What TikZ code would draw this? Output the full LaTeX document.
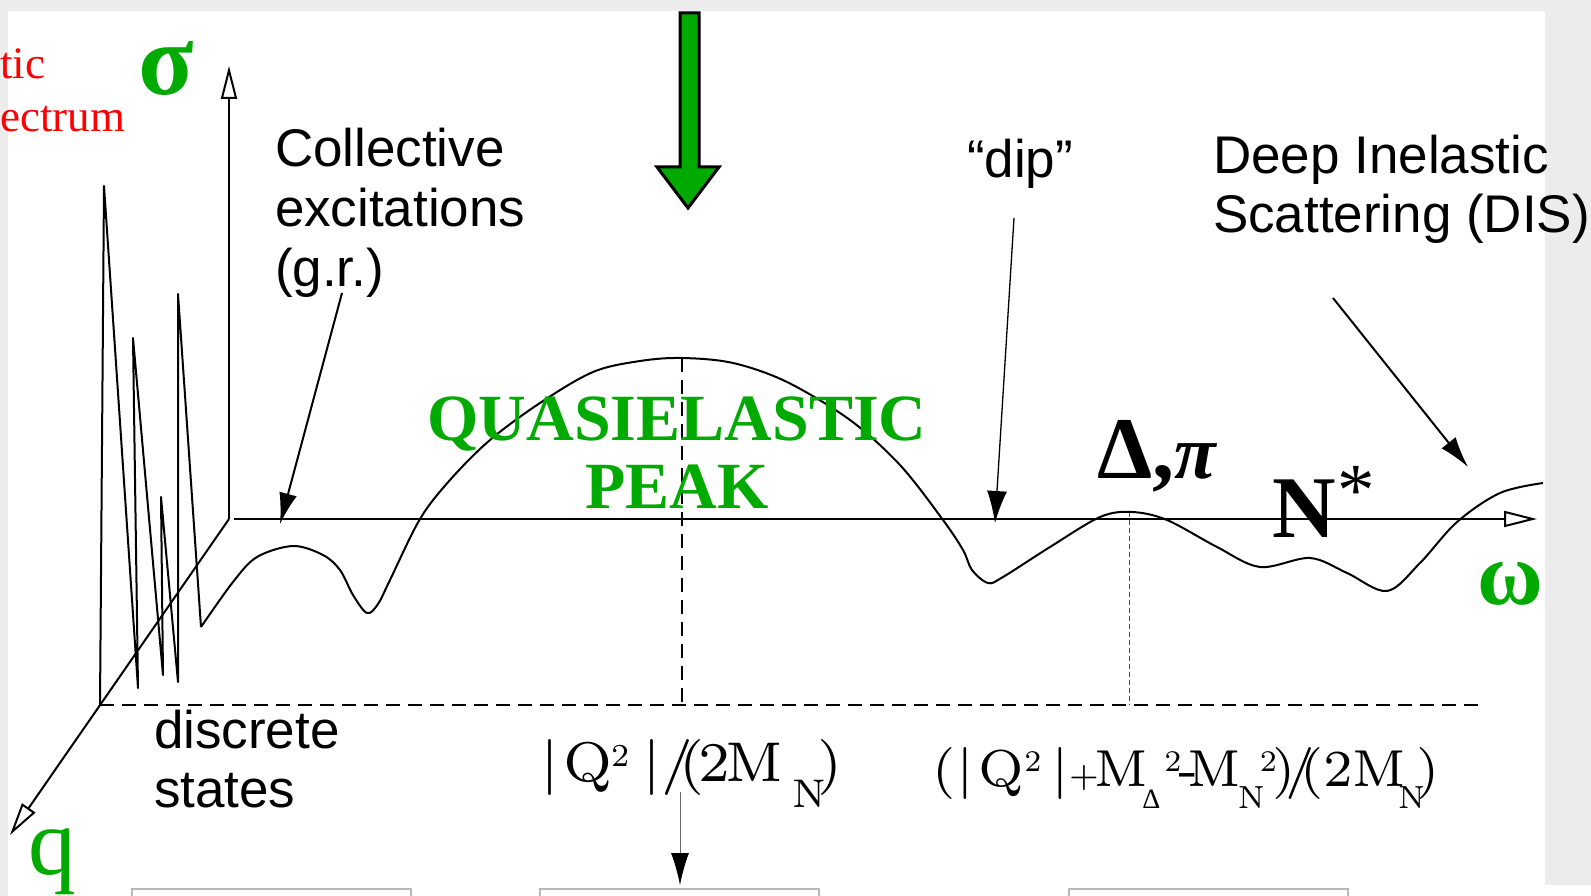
\documentclass[tikz,border=0pt]{standalone}
\usepackage{fontspec}
\newfontfamily\sansf{Liberation Sans}
\newfontfamily\serf{Liberation Serif}
\newfontfamily\lmsev{lmroman7-regular.otf}
\usetikzlibrary{arrows.meta}
\definecolor{grn}{RGB}{0,170,0}
\definecolor{bgray}{RGB}{236,236,236}
\newcommand{\setfs}[1]{\fontsize{#1}{#1}\selectfont}
\newcommand{\sbN}[1]{\raisebox{-26pt}{\setfs{40}#1}}
\newcommand{\sbNN}[1]{\raisebox{-22pt}{\setfs{32}#1}}
\newcommand{\sbD}{\raisebox{-22pt}{\serf\setfs{28}Δ}}
\newcommand{\spT}{\raisebox{15pt}{\setfs{32}2}}
\newcommand{\spTT}{\raisebox{15pt}{\setfs{30}2}}
\begin{document}
\begin{tikzpicture}[x=1pt,y=-1pt,
  lbl/.style={inner sep=0,outer sep=0,anchor=base west,font=\sansf\setfs{53}},
  glbl/.style={inner sep=0,outer sep=0,text=grn},
  ax/.style={line width=2pt,-{Triangle[open,length=33pt,width=16pt]}},
  crv/.style={line width=2pt,line join=round},
  dsh/.style={line width=2pt,dash pattern=on 14pt off 8pt},
  ptr/.style={line width=2pt,-{Latex[length=31pt,width=18pt]}},
  frm/.style={inner sep=0,outer sep=0,anchor=base west},
]
\useasboundingbox (0,0) rectangle (1591,896);
% background
\fill[bgray] (0,0) rectangle (1591,896);
\fill[white] (8,11) rectangle (1545,896);
\fill[white] (1545,885) rectangle (1591,896);

% bottom boxes (cut off)
\draw[gray!55,line width=1.5pt] (132,889) rectangle (411,910);
\draw[gray!55,line width=1.5pt] (540,889) rectangle (819,910);
\draw[gray!55,line width=1.5pt] (1069,889) rectangle (1348,910);

% red clipped text
\node[inner sep=0,anchor=base west,text=red,font=\serf\setfs{45}] (el1) at (0,79) {tic};
\node[inner sep=0,anchor=base west,text=red,font=\serf\setfs{45}] (el2) at (0,132) {ectrum};

% axes
\coordinate (O) at (229,519);
\coordinate (Stop) at (229,66);
\coordinate (Wstart) at (234,519);
\coordinate (Wend) at (1537,519);
\coordinate (Qend) at (10,835);
\draw[ax] (O) -- (Stop);
\draw[ax] (Wstart) -- (Wend);
\draw[ax] (O) -- (Qend);

% dashed guides
\draw[dsh] (100,705) -- (1481,705);
\draw[dsh] (682,358) -- (682,705);
\draw[black!70,line width=1pt,dash pattern=on 5pt off 3pt] (1129,512) -- (1129,705);

% discrete spikes
\draw[crv] (100,705) -- (104,186) -- (138,688) -- (133,338) -- (163,675) -- (161,497)
  -- (178,682) -- (178,294) -- (201,627);
% response curve
\draw[crv] plot[smooth,tension=0.55] coordinates {
  (201,627) (233,582) (257,557) (293,546) (323,555) (340,570) (353,595) (367,613)
  (378,604) (390,580) (420,519) (450,480) (490,440) (540,403) (593,372) (640,361)
  (682,358) (733,363) (787,382) (850,420) (900,465) (943,520) (963,550) (972,570)
  (988,583) (1003,577) (1050,547) (1100,517) (1132,512) (1167,520) (1217,547)
  (1260,567) (1310,558) (1347,573) (1387,591) (1420,563) (1457,522) (1500,493) (1543,483)};

% green big arrow
\draw[line width=3pt,fill=grn,line join=miter] (680,13) -- (699,13) -- (699,167) -- (719,167)
  -- (688,208) -- (657,167) -- (680,167) -- cycle;

% greek axis labels
\node[glbl,anchor=base west,font=\serf\bfseries\setfs{102}] (sig) at (138,95) {σ};
\node[glbl,anchor=base west,font=\serf\bfseries\setfs{90}] (om) at (1477,604) {ω};
\node[glbl,anchor=base west,font=\serf\setfs{95}] (qq) at (28,874) {q};

% labels
\node[lbl] (c1) at (275,167) {Collective};
\node[lbl] (c2) at (275,227) {excitations};
\node[lbl] (c3) at (275,287) {(g.r.)};
\node[lbl] (dip) at (967,178) {“dip”};
\node[lbl] (d1) at (1213,174) {Deep Inelastic};
\node[lbl] (d2) at (1213,233) {Scattering (DIS)};
\node[lbl] (s1) at (154,748) {discrete};
\node[lbl] (s2) at (154,807) {states};

\node[glbl,anchor=base,font=\serf\bfseries\setfs{66}] (qe1) at (677,440) {QUASIELASTIC};
\node[glbl,anchor=base,font=\serf\bfseries\setfs{66}] (qe2) at (677,508) {PEAK};

\node[inner sep=0,anchor=base west,font=\serf\bfseries\setfs{88}] (dpi) at (1097,478) {Δ,{\itshape\setfs{76}π}};
\node[inner sep=0,anchor=base west,font=\serf\bfseries\setfs{88}] (nst) at (1272,537) {N\kern2pt\raisebox{22pt}{\mdseries\setfs{75}*}};

% formulas
\node[frm,font=\lmsev\setfs{56}] (f1) at (540,781)
  {|\kern5pt Q\kern-2pt\spT\kern13pt|/\kern-14pt(\kern-6pt 2\kern-5pt M\kern10pt\sbN{N}\kern-9pt)};
\node[frm,font=\lmsev\setfs{52}] (f2) at (932,786)
  {(\kern1pt|\kern5pt Q\kern0pt\spTT\kern10pt|\kern0pt{\setfs{34}+}\kern-4pt M\kern-6pt\sbD\kern4pt\spTT\kern-3pt-\kern-11pt M\kern-3pt\sbNN{N}\kern-5pt\spTT\kern-5pt)\kern-10pt/\kern-14pt(\kern-1pt 2M\kern-8pt\sbNN{N}\kern-8pt)};

% pointer arrows
\coordinate (grA) at (342,293); \coordinate (grB) at (280,524);
\draw[ptr] (grA) -- (grB);
\coordinate (dipA) at (1014,218); \coordinate (dipB) at (995,523);
\draw[line width=1.3pt,-{Latex[length=32pt,width=20pt]}] (dipA) -- (dipB);
\coordinate (disA) at (1333,298); \coordinate (disB) at (1468,467);
\draw[ptr] (disA) -- (disB);
\coordinate (fA) at (680,792); \coordinate (fB) at (680,885);
\draw[line width=1pt,draw=black!60,-{Latex[length=32pt,width=18pt,color=black]}] (fA) -- (fB);
\end{tikzpicture}
\end{document}
